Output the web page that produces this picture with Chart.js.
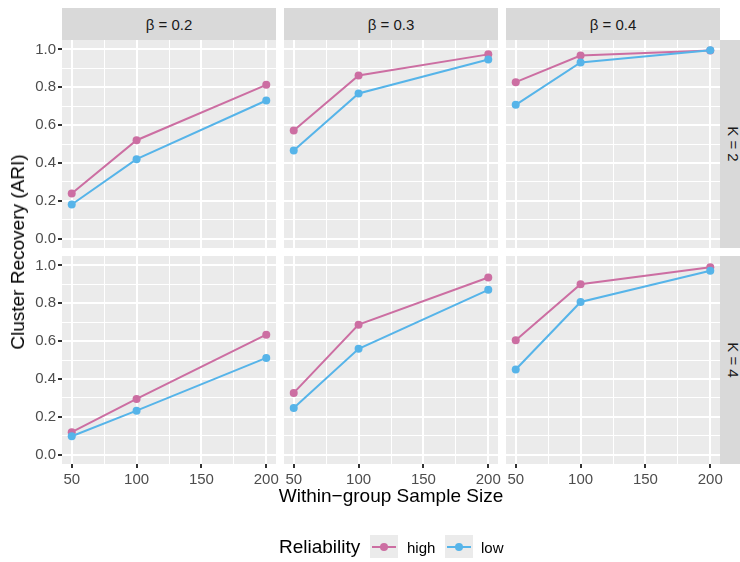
<!DOCTYPE html>
<html>
<head>
<meta charset="utf-8">
<script src="https://cdn.jsdelivr.net/npm/chart.js@4.4.1/dist/chart.umd.min.js"></script>
<style>
  html, body { margin: 0; padding: 0; background: #fff; }
  #page { position: relative; width: 740px; height: 562px; overflow: hidden; font-family: 'Liberation Sans', Arial, sans-serif; }
  .strip { position: absolute; background: #D9D9D9; color: #1A1A1A; font-size: 15px; }
  .strip span { position: absolute; left: 50%; top: 50%; transform: translate(-50%, -50%); white-space: nowrap; }
  .strip.side span { transform: translate(-50%, -50%) rotate(90deg); }
  .title { position: absolute; font-size: 19px; color: #000; white-space: nowrap; }
  .key { position: absolute; width: 28px; height: 23px; background: #EBEBEB; }
  .key i { position: absolute; left: 2px; right: 2px; top: 10.5px; height: 2px; }
  .key b { position: absolute; left: 10px; top: 7.5px; width: 8px; height: 8px; border-radius: 50%; }
  .lab { position: absolute; font-size: 15px; color: #000; }
</style>
</head>
<body>
<div id="page"></div>
<script>
// Within-group sample size on x, cluster recovery (ARI) on y
const sampleSizes = [50, 100, 200];
const betaLabels = ['0.2', '0.3', '0.4'];
const kLabels = ['2', '4'];
const seriesNames = ['high', 'low'];

// one inner array per beta panel (0.2, 0.3, 0.4)
const highK2 = [[0.238, 0.520, 0.813], [0.571, 0.862, 0.974], [0.827, 0.968, 0.995]];
const lowK2  = [[0.180, 0.420, 0.730], [0.466, 0.767, 0.947], [0.707, 0.931, 0.996]];
const highK4 = [[0.118, 0.294, 0.634], [0.326, 0.687, 0.936], [0.605, 0.901, 0.991]];
const lowK4  = [[0.097, 0.232, 0.511], [0.246, 0.559, 0.871], [0.450, 0.807, 0.972]];

const xTicks = [50, 100, 150, 200];
const xMinor = [75, 125, 175];
const yTicks = [0, 0.2, 0.4, 0.6, 0.8, 1.0];
const yMinor = [0.1, 0.3, 0.5, 0.7, 0.9];

const colors = { high: '#CC6EA2', low: '#56B4E9' };

Chart.defaults.font.family = "'Liberation Sans', Arial, sans-serif";

const page = document.getElementById('page');
const panelLeft = [62, 284, 506];
const panelTop = [40, 256];
const panelW = 214, panelH = 208;

const panelBg = {
  id: 'panelBg',
  beforeDraw(chart) {
    const a = chart.chartArea, ctx = chart.ctx;
    ctx.save();
    ctx.fillStyle = '#EBEBEB';
    ctx.fillRect(a.left, a.top, a.right - a.left, a.bottom - a.top);
    ctx.restore();
  }
};

function isMajor(v, list) {
  return list.some(t => Math.abs(t - v) < 1e-6);
}

function addDiv(cls, css, html) {
  const d = document.createElement('div');
  d.className = cls;
  d.style.cssText = css;
  if (html) d.innerHTML = html;
  page.appendChild(d);
  return d;
}

function makePanel(r, c) {
  const axisW = c === 0 ? 40 : 0;
  const axisH = r === 1 ? 26 : 0;
  const extraR = r === 1 ? 12 : 0; // room for the "200" label past the panel edge
  const w = panelW + axisW + extraR, h = panelH + axisH;
  const canvas = document.createElement('canvas');
  canvas.width = w; canvas.height = h;
  canvas.style.cssText = `position:absolute;left:${panelLeft[c] - axisW}px;top:${panelTop[r]}px;width:${w}px;height:${h}px;`;
  page.appendChild(canvas);

  const high = r === 0 ? highK2[c] : highK4[c];
  const low = r === 0 ? lowK2[c] : lowK4[c];
  const mk = (name, vals, order) => ({
    label: name,
    data: sampleSizes.map((x, i) => ({ x: x, y: vals[i] })),
    borderColor: colors[name],
    backgroundColor: colors[name],
    pointBackgroundColor: colors[name],
    pointBorderColor: colors[name],
    borderWidth: 2,
    pointRadius: 4,
    pointBorderWidth: 0,
    tension: 0,
    clip: false,
    order: order
  });

  new Chart(canvas, {
    type: 'line',
    data: { datasets: [mk('high', high, 1), mk('low', low, 0)] },
    options: {
      responsive: false,
      animation: false,
      devicePixelRatio: 1,
      layout: { padding: { left: 0, top: 0, bottom: 0, right: extraR }, autoPadding: false },
      plugins: { legend: { display: false }, tooltip: { enabled: false } },
      scales: {
        x: {
          type: 'linear',
          min: 42.5,
          max: 207.5,
          afterBuildTicks: s => { s.ticks = xTicks.concat(xMinor).sort((a, b) => a - b).map(v => ({ value: v })); },
          afterFit: s => { s.height = axisH; s.paddingLeft = 0; s.paddingRight = 0; },
          border: { display: false },
          grid: {
            color: '#FFFFFF',
            lineWidth: ctx => isMajor(ctx.tick.value, xTicks) ? 2 : 1,
            drawTicks: axisH > 0,
            tickLength: 4,
            tickColor: ctx => isMajor(ctx.tick.value, xTicks) ? '#333333' : 'rgba(0,0,0,0)',
            tickWidth: 2
          },
          ticks: {
            display: axisH > 0,
            autoSkip: false,
            maxRotation: 0,
            padding: 3,
            color: '#4D4D4D',
            font: { size: 15 },
            callback: v => isMajor(v, xTicks) ? String(v) : ''
          }
        },
        y: {
          min: -0.05,
          max: 1.05,
          afterBuildTicks: s => { s.ticks = yTicks.concat(yMinor).sort((a, b) => a - b).map(v => ({ value: v })); },
          afterFit: s => { s.width = axisW; s.paddingTop = 0; s.paddingBottom = 0; },
          border: { display: false },
          grid: {
            color: '#FFFFFF',
            lineWidth: ctx => isMajor(ctx.tick.value, yTicks) ? 2 : 1,
            drawTicks: axisW > 0,
            tickLength: 4,
            tickColor: ctx => isMajor(ctx.tick.value, yTicks) ? '#333333' : 'rgba(0,0,0,0)',
            tickWidth: 2
          },
          ticks: {
            display: axisW > 0,
            autoSkip: false,
            padding: 2,
            color: '#4D4D4D',
            font: { size: 15 },
            callback: v => isMajor(v, yTicks) ? v.toFixed(1) : ''
          }
        }
      }
    },
    plugins: [panelBg]
  });
}

// strips
betaLabels.forEach((b, c) => {
  addDiv('strip', `left:${panelLeft[c]}px;top:8px;width:${panelW}px;height:32px;`, `<span>β = ${b}</span>`);
});
kLabels.forEach((k, r) => {
  addDiv('strip side', `left:720px;top:${panelTop[r]}px;width:25px;height:${panelH}px;`, `<span>K = ${k}</span>`);
});

for (let r = 0; r < 2; r++) {
  for (let c = 0; c < 3; c++) makePanel(r, c);
}

// axis titles
addDiv('title', 'left:18px;top:252px;transform:translate(-50%,-50%) rotate(-90deg);', 'Cluster Recovery (ARI)');
addDiv('title', 'left:391px;top:496px;transform:translate(-50%,-50%);', 'Within\u2212group Sample Size');

// legend
addDiv('title', 'left:279px;top:547px;transform:translateY(-50%);', 'Reliability');
const keyX = [370, 445];
const labX = [407, 481];
seriesNames.forEach((n, i) => {
  addDiv('key', `left:${keyX[i]}px;top:535px;`, `<i style="background:${colors[n]}"></i><b style="background:${colors[n]}"></b>`);
  addDiv('lab', `left:${labX[i]}px;top:547px;transform:translateY(-50%);`, n);
});
</script>
</body>
</html>
